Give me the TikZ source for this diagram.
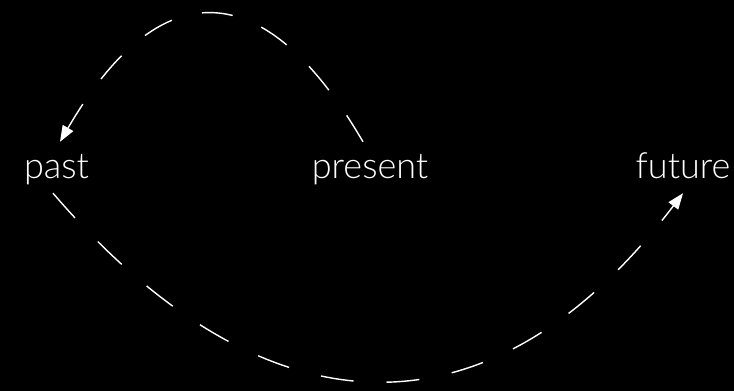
\documentclass[tikz,border=0pt]{standalone}
\usepackage{fontspec}
\setmainfont{Lato Light}
\usetikzlibrary{arrows.meta}
\tikzset{
  word/.style={text=white, font=\fontsize{36}{40}\selectfont, anchor=base,
    inner sep=10pt, text height=26pt, text depth=5pt},
  flow/.style={draw=white, line width=1.4pt,
    -{Triangle[length=16pt,width=12pt]}}
}
\begin{document}
\begin{tikzpicture}[x=1pt,y=-1pt]
\fill[black] (0,0) rectangle (734,391);
\useasboundingbox (0,0) rectangle (734,391);
\node[word] (past) at (56.5,178) {past};
\node[word] (present) at (370,178) {present};
\node[word] (future) at (683,178) {future};
\draw[flow, dash pattern=on 31pt off 31pt] ([xshift=-7pt]present.north) .. controls +(-99,-170) and +(99,-170) .. ([xshift=3.5pt]past.north);
\draw[flow, dash pattern=on 33pt off 33pt] ([xshift=-3.5pt]past.south) .. controls +(215,250) and +(-190,250) .. (future.south);
\end{tikzpicture}
\end{document}
